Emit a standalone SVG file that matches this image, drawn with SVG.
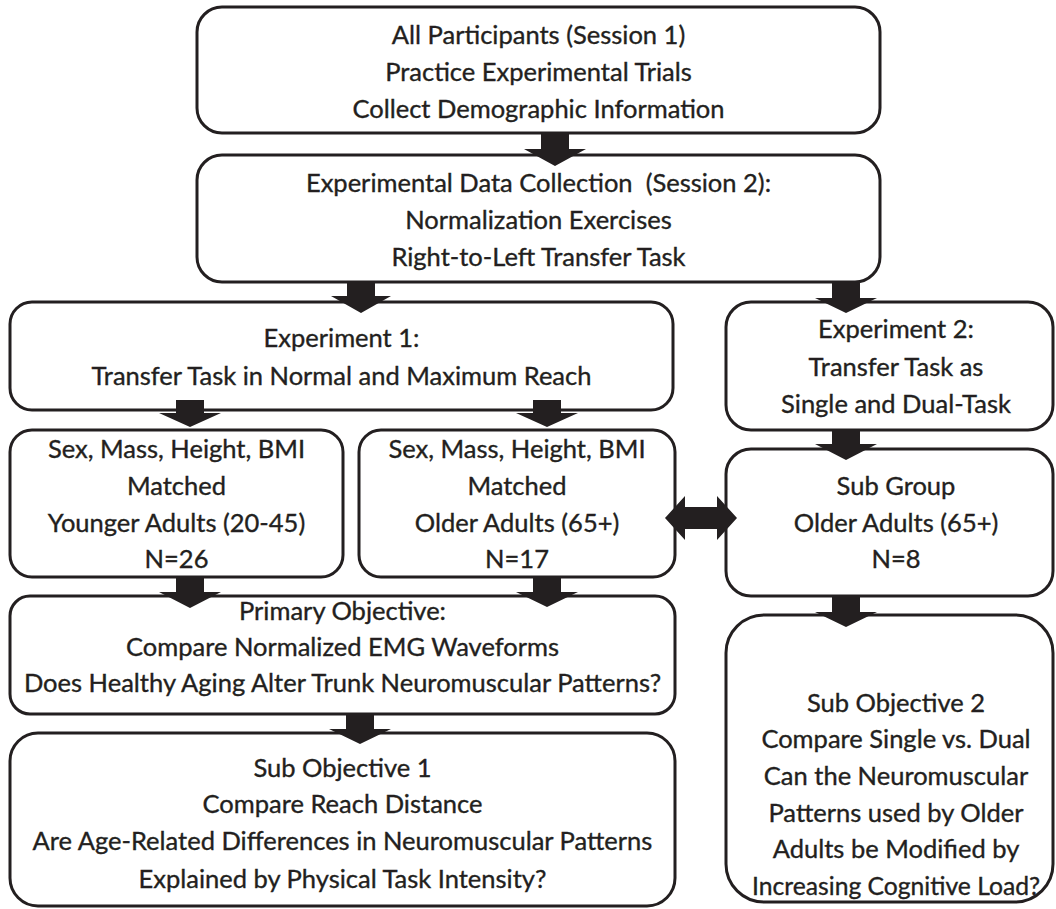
<svg xmlns="http://www.w3.org/2000/svg" width="1056" height="909" viewBox="0 0 1056 909">
<style>
.box{fill:#fff;stroke:#231f20;stroke-width:3}
.t{font-family:Lato,"Open Sans",sans-serif;font-size:25.5px;fill:#231f20;stroke:#231f20;stroke-width:0.35;text-anchor:middle;white-space:pre}
.arr{fill:#231f20;stroke:none}
</style>
<rect width="1056" height="909" fill="#fff"/>
<g id="n1"><rect class="box" x="197" y="7" width="683" height="126" rx="25"/>
<text class="t" x="538.5" y="44">All Participants (Session 1)</text>
<text class="t" x="538.5" y="81">Practice Experimental Trials</text>
<text class="t" x="538.5" y="118">Collect Demographic Information</text></g>
<g id="n2"><rect class="box" x="197" y="155" width="683" height="127" rx="25"/>
<text class="t" x="538.5" y="192" xml:space="preserve">Experimental Data Collection  (Session 2):</text>
<text class="t" x="538.5" y="229">Normalization Exercises</text>
<text class="t" x="538.5" y="266">Right-to-Left Transfer Task</text></g>
<g id="n3"><rect class="box" x="10" y="302" width="663" height="108" rx="22"/>
<text class="t" x="341.5" y="347">Experiment 1:</text>
<text class="t" x="341.5" y="385">Transfer Task in Normal and Maximum Reach</text></g>
<g id="n4"><rect class="box" x="726" y="302" width="327" height="128" rx="25"/>
<text class="t" x="896" y="338">Experiment 2:</text>
<text class="t" x="896" y="376">Transfer Task as</text>
<text class="t" x="896" y="413">Single and Dual-Task</text></g>
<g id="n5"><rect class="box" x="10" y="430" width="333" height="147" rx="22"/>
<text class="t" x="176.5" y="458">Sex, Mass, Height, BMI</text>
<text class="t" x="176.5" y="495">Matched</text>
<text class="t" x="176.5" y="532">Younger Adults (20-45)</text>
<text class="t" x="176.5" y="568">N=26</text></g>
<g id="n6"><rect class="box" x="359" y="430" width="316" height="147" rx="22"/>
<text class="t" x="517" y="458">Sex, Mass, Height, BMI</text>
<text class="t" x="517" y="495">Matched</text>
<text class="t" x="517" y="532">Older Adults (65+)</text>
<text class="t" x="517" y="568">N=17</text></g>
<g id="n7"><rect class="box" x="726" y="449" width="327" height="147" rx="25"/>
<text class="t" x="896" y="495">Sub Group</text>
<text class="t" x="896" y="532">Older Adults (65+)</text>
<text class="t" x="896" y="568">N=8</text></g>
<g id="n8"><rect class="box" x="10" y="596" width="665" height="118" rx="20"/>
<text class="t" x="342.5" y="620">Primary Objective:</text>
<text class="t" x="342.5" y="656">Compare Normalized EMG Waveforms</text>
<text class="t" x="342.5" y="692">Does Healthy Aging Alter Trunk Neuromuscular Patterns?</text></g>
<g id="n9"><rect class="box" x="10" y="733" width="665" height="173" rx="28"/>
<text class="t" x="342.5" y="777">Sub Objective 1</text>
<text class="t" x="342.5" y="813">Compare Reach Distance</text>
<text class="t" x="342.5" y="850">Are Age-Related Differences in Neuromuscular Patterns</text>
<text class="t" x="342.5" y="888">Explained by Physical Task Intensity?</text></g>
<g id="n10"><rect class="box" x="726" y="615" width="327" height="287" rx="38"/>
<text class="t" x="896" y="712">Sub Objective 2</text>
<text class="t" x="896" y="748">Compare Single vs. Dual</text>
<text class="t" x="896" y="785">Can the Neuromuscular</text>
<text class="t" x="896" y="822">Patterns used by Older</text>
<text class="t" x="896" y="858">Adults be Modified by</text>
<text class="t" x="896" y="895" textLength="288" lengthAdjust="spacingAndGlyphs">Increasing Cognitive Load?</text></g>
<g id="connectors" class="arr">
<path d="M541 133H569V149H586L555 166L524 149H541Z"/>
<path d="M347 282H375V296H391L361 313L331 296H347Z"/>
<path d="M832 282H860V298H877L846 313L815 298H832Z"/>
<path d="M176 400H204V413H221L190 427L159 413H176Z"/>
<path d="M533 400H561V413H578L547 427L516 413H533Z"/>
<path d="M832 430H860V444H877L846 460L815 444H832Z"/>
<path d="M176 577H204V592H221L190 608L159 592H176Z"/>
<path d="M533 577H561V592H578L547 607L516 592H533Z"/>
<path d="M346 714H374V729H391L360 744L329 729H346Z"/>
<path d="M832 596H860V612H877L846 627L815 612H832Z"/>
<path d="M665 518L685 496V507H717V496L737 518L717 540V529H685V540Z"/>
</g>
</svg>
